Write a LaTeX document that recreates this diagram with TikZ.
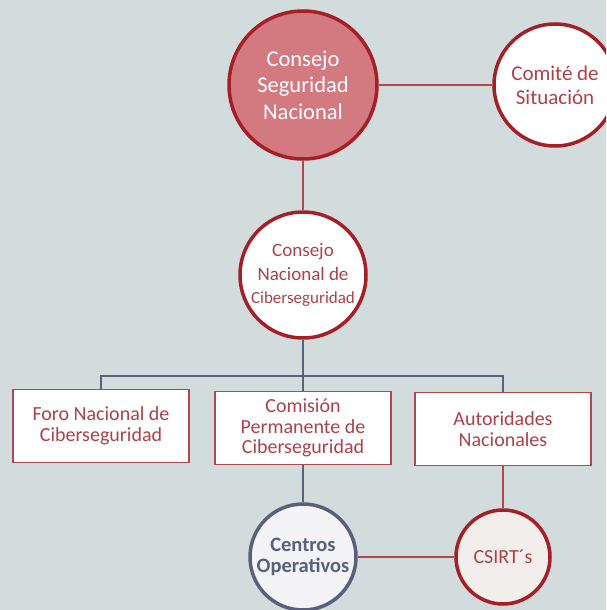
\documentclass[tikz,border=0pt]{standalone}
\usepackage{fontspec}
\setmainfont{Carlito}
\usetikzlibrary{positioning,calc}
\definecolor{bgcol}{RGB}{211,220,220}
\definecolor{redline}{RGB}{180,70,78}
\definecolor{redrim}{RGB}{166,30,38}
\definecolor{rosefill}{RGB}{211,122,128}
\definecolor{slate}{RGB}{88,96,124}
\definecolor{redtext}{RGB}{174,66,76}
\definecolor{creamfill}{RGB}{242,238,235}
\definecolor{palefill}{RGB}{244,244,247}

\begin{document}
\begin{tikzpicture}[x=1pt,y=-1pt,
	big node/.style={circle,draw=redrim,line width=3.5pt,fill=rosefill,text=white,align=center,
		inner sep=0pt,minimum size=148pt,font=\fontsize{22.5}{26.5}\selectfont},
	ring node/.style={circle,draw=redrim,line width=3.5pt,fill=white,text=redtext,align=center,
		inner sep=0pt,font=\fontsize{20.5}{24}\selectfont},
	box node/.style={rectangle,draw=redline,line width=1.2pt,fill=white,text=redtext,align=center,
		minimum width=176pt,minimum height=73pt,font=\fontsize{20}{20.5}\selectfont},
	red link/.style={draw=redline,line width=1.8pt},
	blue link/.style={draw=slate,line width=2.4pt}]

	\clip (0,0) rectangle (606,610);
	\fill[bgcol] (0,0) rectangle (606,610);

	\node[big node] (csn) at (303,85) {Consejo\\Seguridad\\Nacional};
	\node[ring node,minimum size=122pt,font=\fontsize{21}{24}\selectfont] (comite) at (555,85)
		{Comité de\\Situación};
	\node[ring node,minimum size=126pt,font=\fontsize{19}{23.5}\selectfont] (cnc) at (303,275)
		{Consejo\\Nacional de\\{\fontsize{17}{21}\selectfont Ciberseguridad}};

	\coordinate (bar) at (303,376);
	\node[box node] (foro) at (101,426) {Foro Nacional de\\Ciberseguridad};
	\node[box node] (comision) at (303,428) {Comisión\\Permanente de\\Ciberseguridad};
	\node[box node] (auto) at (503,429) {Autoridades\\Nacionales};

	\node[ring node,draw=slate,fill=palefill,text=slate,minimum size=106pt,
		font=\fontsize{20.5}{21.5}\selectfont\bfseries] (centros) at (303,557) {Centros\\Operativos};
	\node[ring node,fill=creamfill,minimum size=94pt,font=\fontsize{20}{24}\selectfont] (csirt)
		at (503,557) {CSIRT´s};

	\path[red link]
	(csn) edge (comite)
	(csn) edge (cnc)
	(auto) edge (csirt)
	(centros) edge (csirt);

	\draw[blue link] (cnc) -- (bar);
	\draw[blue link] (foro.north) |- (bar) -| (auto.north);
	\draw[blue link] (bar) -- (comision);
	\draw[blue link] (comision) -- (centros);

\end{tikzpicture}
\end{document}
